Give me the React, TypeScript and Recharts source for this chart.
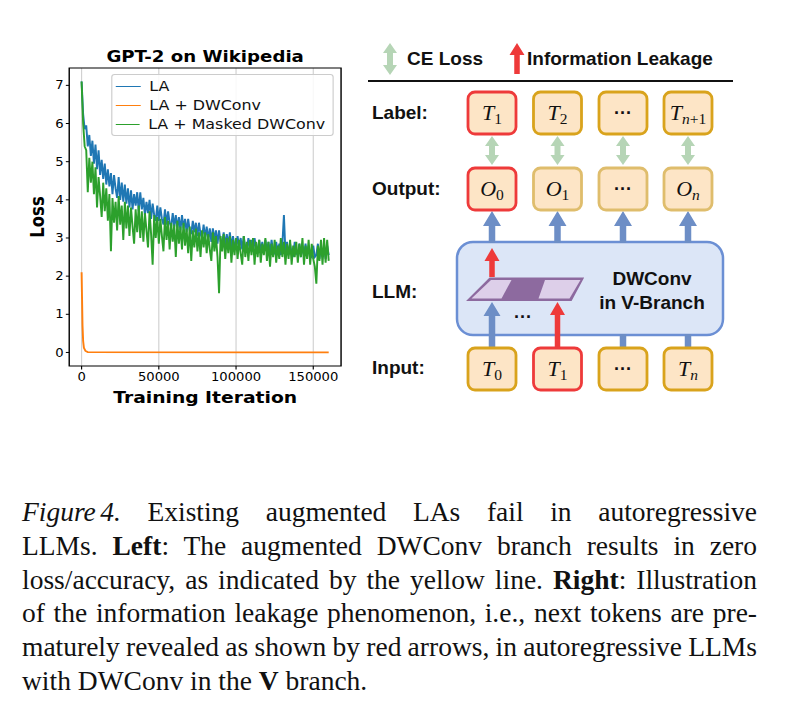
import {
  LineChart,
  Line,
  XAxis,
  YAxis,
  CartesianGrid,
  Legend,
  ReferenceArea,
} from "recharts";

const ITER_STEP = 1000;

const laLoss = [
  7.1, 6.25, 5.85, 5.95, 5.4, 5.7, 5.15, 5.55, 4.95, 5.45,
  4.8, 5.3, 4.65, 5.05, 4.55, 4.95, 4.4, 4.8, 4.35, 4.7,
  4.15, 4.65, 4.3, 4.05, 4.6, 4.0, 4.45, 3.95, 4.4, 3.9,
  4.3, 3.8, 4.25, 3.75, 4.15, 3.85, 4.2, 3.7, 4.2, 3.75,
  4.05, 3.6, 3.95, 3.65, 4.0, 3.5, 3.9, 3.6, 3.45, 3.85,
  3.45, 3.8, 3.5, 3.35, 3.75, 3.35, 3.7, 3.4, 3.3, 3.65,
  3.3, 3.6, 3.25, 3.55, 3.2, 3.6, 3.25, 3.5, 3.15, 3.5,
  3.2, 3.1, 3.45, 3.15, 3.4, 3.05, 3.4, 3.1, 3.0, 3.35,
  3.0, 3.3, 2.95, 3.25, 2.9, 3.25, 2.95, 3.2, 2.85, 3.2,
  2.9, 2.85, 3.15, 2.8, 3.1, 2.8, 3.15, 2.75, 3.05, 2.8,
  2.75, 3.05, 2.75, 3.0, 2.7, 3.05, 2.75, 2.7, 3.0, 2.7,
  2.95, 2.65, 3.0, 2.7, 2.65, 2.95, 2.65, 2.9, 2.6, 2.95,
  2.65, 2.9, 2.6, 2.95, 2.65, 2.6, 2.9, 2.6, 2.85, 2.55,
  2.85, 3.6, 2.6, 2.9, 2.55, 2.85, 2.6, 2.55, 2.9, 2.6,
  2.55, 2.85, 2.5, 2.8, 2.55, 2.85, 2.5, 2.8, 2.55, 2.5,
  2.8, 2.5, 2.55, 2.85, 2.45, 2.8, 2.5, 2.75, 2.45, 2.8,
  2.55,
];

const maskedLoss = [
  7.1, 6.0, 5.4, 5.3, 4.2, 5.1, 4.45, 5.0, 4.15, 4.85,
  3.8, 4.6, 4.1, 3.55, 4.45, 3.7, 4.3, 3.45, 4.15, 2.65,
  4.05, 3.4, 3.95, 3.2, 4.1, 3.35, 3.85, 2.95, 3.95, 3.25,
  3.85, 3.05, 3.8, 3.3, 2.85, 3.75, 3.15, 3.85, 3.0, 3.7,
  2.9, 3.65, 3.2, 2.75, 3.7, 3.1, 2.3, 3.6, 3.0, 3.55,
  2.85, 3.5, 3.05, 2.65, 3.55, 2.95, 3.45, 2.7, 3.4, 2.9,
  3.35, 2.5, 3.45, 2.85, 3.3, 2.7, 3.4, 2.8, 3.25, 2.6,
  3.3, 2.4, 3.2, 2.75, 3.25, 2.65, 3.15, 2.5, 3.2, 2.75,
  3.15, 2.6, 3.1, 2.7, 2.4, 3.15, 2.65, 3.05, 2.5, 1.55,
  3.05, 2.65, 3.1, 2.45, 3.0, 2.6, 3.05, 2.35, 2.95, 2.55,
  3.0, 2.45, 2.95, 2.6, 2.3, 3.05, 2.5, 2.9, 2.4, 2.95,
  2.55, 3.0, 2.3, 2.9, 2.5, 2.95, 2.35, 2.85, 2.55, 3.0,
  2.4, 2.9, 2.25, 2.85, 2.5, 2.95, 2.35, 2.8, 2.45, 3.0,
  2.5, 2.9, 2.3, 2.85, 2.45, 2.95, 2.3, 2.8, 2.5, 2.9,
  2.35, 2.85, 2.5, 3.0, 2.3, 2.8, 2.45, 2.95, 2.3, 2.85,
  2.45, 2.25, 1.8, 2.8, 2.4, 2.95, 2.3, 3.0, 2.35, 2.95,
  2.4,
];

// the DWConv run collapses to zero almost immediately
const dwconvIter = [0, 300, 600, 1000, 1500, 2500, 4000, 160000];
const dwconvLoss = [2.1, 1.4, 0.7, 0.3, 0.12, 0.04, 0.01, 0.0];

const xTicks = [0, 50000, 100000, 150000];
const yTicks = [0, 1, 2, 3, 4, 5, 6, 7];
const seriesNames = ["LA", "LA + DWConv", "LA + Masked DWConv"];
const seriesColors = ["#1f77b4", "#ff7f0e", "#2ca02c"];

const laData = laLoss.map((loss, i) => ({ iter: i * ITER_STEP, loss }));
const maskedData = maskedLoss.map((loss, i) => ({ iter: i * ITER_STEP, loss }));
const dwconvData = dwconvIter.map((iter, i) => ({ iter, loss: dwconvLoss[i] }));

const X_DOMAIN: [number, number] = [-8000, 168000];
const Y_DOMAIN: [number, number] = [-0.355, 7.455];

const MPL_FONT = "'DejaVu Sans', Verdana, sans-serif";
const SANS = "'Liberation Sans', Arial, Helvetica, sans-serif";
const SERIF = "'Liberation Serif', 'Times New Roman', serif";

// the plot in the figure is stretched sideways
const STRETCH = 1.135;

function LegendBox() {
  return (
    <div
      style={{
        border: "1px solid #cccccc",
        borderRadius: 3,
        background: "rgba(255,255,255,0.85)",
        padding: "1.5px 6px 1.5px 3px",
        fontFamily: MPL_FONT,
        fontSize: 14,
        lineHeight: "19px",
        color: "#111",
      }}
    >
      {seriesNames.map((name, i) => (
        <div key={name} style={{ display: "flex", alignItems: "center" }}>
          <span
            style={{
              display: "inline-block",
              width: 22,
              height: 0,
              borderTop: `1.7px solid ${seriesColors[i]}`,
              marginRight: 8,
            }}
          />
          <span style={{ whiteSpace: "nowrap" }}>{name}</span>
        </div>
      ))}
    </div>
  );
}

function LossChart() {
  return (
    <div
      style={{
        position: "absolute",
        left: 0,
        top: 0,
        width: 320,
        height: 420,
        transform: `scaleX(${STRETCH})`,
        transformOrigin: "0 0",
      }}
    >
      <LineChart
        width={320}
        height={420}
        margin={{ top: 68, right: 19.5, bottom: 24, left: 21 }}
      >
        <CartesianGrid horizontal={false} stroke="#d0d0d0" strokeWidth={1} />
        <XAxis
          type="number"
          dataKey="iter"
          domain={X_DOMAIN}
          ticks={xTicks}
          interval={0}
          allowDataOverflow
          axisLine={false}
          tickLine={{ stroke: "#000" }}
          tickSize={3.5}
          tickMargin={3}
          height={30}
          tick={{ fontSize: 11.6, fill: "#000", fontFamily: MPL_FONT }}
        />
        <YAxis
          type="number"
          domain={Y_DOMAIN}
          ticks={yTicks}
          interval={0}
          allowDataOverflow
          axisLine={false}
          tickLine={{ stroke: "#000" }}
          tickSize={3}
          tickMargin={2}
          width={40}
          tick={{ fontSize: 11.6, fill: "#000", fontFamily: MPL_FONT }}
        />
        <Line
          data={laData}
          dataKey="loss"
          name={seriesNames[0]}
          stroke={seriesColors[0]}
          strokeWidth={1.7}
          dot={false}
          type="linear"
          isAnimationActive={false}
        />
        <Line
          data={dwconvData}
          dataKey="loss"
          name={seriesNames[1]}
          stroke={seriesColors[1]}
          strokeWidth={1.7}
          dot={false}
          type="linear"
          isAnimationActive={false}
        />
        <Line
          data={maskedData}
          dataKey="loss"
          name={seriesNames[2]}
          stroke={seriesColors[2]}
          strokeWidth={1.7}
          dot={false}
          type="linear"
          isAnimationActive={false}
        />
        <ReferenceArea
          x1={X_DOMAIN[0]}
          x2={X_DOMAIN[1]}
          y1={Y_DOMAIN[0]}
          y2={Y_DOMAIN[1]}
          fill="none"
          stroke="#000"
          strokeWidth={1.2}
          ifOverflow="visible"
        />
        <Legend
          layout="vertical"
          align="center"
          verticalAlign="middle"
          content={() => <LegendBox />}
          wrapperStyle={{ left: 97.5, top: 74, width: 196, height: "auto" }}
        />
      </LineChart>
      <svg
        width={320}
        height={420}
        style={{ position: "absolute", left: 0, top: 0, pointerEvents: "none" }}
      >
        <text
          x={180.75}
          y={62}
          textAnchor="middle"
          fontFamily={MPL_FONT}
          fontWeight="bold"
          fontSize={16}
        >
          GPT-2 on Wikipedia
        </text>
        <text
          x={180.75}
          y={403}
          textAnchor="middle"
          fontFamily={MPL_FONT}
          fontWeight="bold"
          fontSize={16.5}
        >
          Training Iteration
        </text>
        <text
          transform="translate(33.5,217) rotate(-90)"
          textAnchor="middle"
          dominantBaseline="central"
          fontFamily={MPL_FONT}
          fontWeight="bold"
          fontSize={16.5}
        >
          Loss
        </text>
      </svg>
    </div>
  );
}

// ---------- right-hand illustration ----------

const COLS = [492, 557.5, 623, 688];
const BOX_W = 48;
const BOX_H = 42;
const PEACH = "#fde5c6";
const GOLD = "#d9a31c";
const GOLD_LIGHT = "#dfbd6c";
const RED = "#ee3a3a";
const GREEN = "#b6d5b6";
const BLUE = "#6d8ec6";

type Cell = { base?: string; sub?: { t: string; italic?: boolean }[]; red?: boolean };

const labelRow: Cell[] = [
  { base: "T", sub: [{ t: "1" }], red: true },
  { base: "T", sub: [{ t: "2" }] },
  {},
  { base: "T", sub: [{ t: "n", italic: true }, { t: "+1" }] },
];
const outputRow: Cell[] = [
  { base: "O", sub: [{ t: "0" }], red: true },
  { base: "O", sub: [{ t: "1" }] },
  {},
  { base: "O", sub: [{ t: "n", italic: true }] },
];
const inputRow: Cell[] = [
  { base: "T", sub: [{ t: "0" }] },
  { base: "T", sub: [{ t: "1" }], red: true },
  {},
  { base: "T", sub: [{ t: "n", italic: true }] },
];

function UpArrow(p: {
  x: number;
  tail: number;
  tip: number;
  color: string;
  shaft: number;
  headW: number;
  headH: number;
}) {
  const sw = p.shaft / 2;
  const hw = p.headW / 2;
  const b = p.tip + p.headH;
  const d = `M${p.x - sw},${p.tail} L${p.x - sw},${b} L${p.x - hw},${b} L${p.x},${p.tip} L${p.x + hw},${b} L${p.x + sw},${b} L${p.x + sw},${p.tail} Z`;
  return <path d={d} fill={p.color} />;
}

function DoubleArrow(p: { x: number; top: number; bottom: number; color: string }) {
  const sw = 3;
  const hw = 7;
  const hh = 10;
  const { x, top, bottom } = p;
  const d = `M${x},${top} L${x + hw},${top + hh} L${x + sw},${top + hh} L${x + sw},${bottom - hh} L${x + hw},${bottom - hh} L${x},${bottom} L${x - hw},${bottom - hh} L${x - sw},${bottom - hh} L${x - sw},${top + hh} L${x - hw},${top + hh} Z`;
  return <path d={d} fill={p.color} />;
}

function TokenRow({ cells, top, stroke }: { cells: Cell[]; top: number; stroke: string }) {
  const cy = top + BOX_H / 2;
  return (
    <g>
      {cells.map((c, i) => {
        const cx = COLS[i];
        return (
          <g key={i}>
            <rect
              x={cx - BOX_W / 2}
              y={top}
              width={BOX_W}
              height={BOX_H}
              rx={7}
              fill={PEACH}
              stroke={c.red ? RED : stroke}
              strokeWidth={2.8}
            />
            {c.base ? (
              <text
                x={cx}
                y={cy + 6.5}
                textAnchor="middle"
                fontFamily={SERIF}
                fontSize={22}
                fill="#111"
              >
                <tspan fontStyle="italic">{c.base}</tspan>
                {c.sub!.map((s, j) => (
                  <tspan
                    key={j}
                    fontSize={15.5}
                    dy={j === 0 ? 4 : 0}
                    fontStyle={s.italic ? "italic" : "normal"}
                  >
                    {s.t}
                  </tspan>
                ))}
              </text>
            ) : (
              <text
                x={cx}
                y={cy}
                textAnchor="middle"
                dominantBaseline="central"
                fontFamily={SANS}
                fontWeight="bold"
                fontSize={18}
                fill="#111"
              >
                ···
              </text>
            )}
          </g>
        );
      })}
    </g>
  );
}

function LeakageDiagram() {
  const rowLabel = (text: string, y: number) => (
    <text
      x={372}
      y={y}
      dominantBaseline="central"
      fontFamily={SANS}
      fontWeight="bold"
      fontSize={19}
      fill="#111"
    >
      {text}
    </text>
  );
  return (
    <svg
      width={800}
      height={420}
      style={{ position: "absolute", left: 0, top: 0, pointerEvents: "none" }}
    >
      {/* key */}
      <DoubleArrow x={390} top={43} bottom={75} color={GREEN} />
      <text x={407} y={64.5} fontFamily={SANS} fontWeight="bold" fontSize={19} fill="#111">
        CE Loss
      </text>
      <UpArrow x={517} tail={74} tip={43} color={RED} shaft={5.5} headW={15} headH={12} />
      <text x={527} y={64.5} fontFamily={SANS} fontWeight="bold" fontSize={19} fill="#111">
        Information Leakage
      </text>
      <line x1={368} x2={733} y1={81} y2={81} stroke="#111" strokeWidth={2} />

      {rowLabel("Label:", 112.5)}
      {rowLabel("Output:", 188.5)}
      {rowLabel("LLM:", 291.5)}
      {rowLabel("Input:", 367.5)}

      {/* LLM block */}
      <rect
        x={457}
        y={242}
        width={266}
        height={93}
        rx={16}
        fill="#dce6f7"
        stroke="#6b8fd4"
        strokeWidth={2.5}
      />
      {COLS.map((cx) => (
        <UpArrow key={cx} x={cx} tail={243} tip={211} color={BLUE} shaft={6.5} headW={18} headH={15} />
      ))}
      {COLS.slice(2).map((cx) => (
        <rect key={cx} x={cx - 3.25} y={334} width={6.5} height={15} fill={BLUE} />
      ))}
      <UpArrow x={COLS[0]} tail={347} tip={302} color={BLUE} shaft={6.5} headW={17} headH={14} />
      <UpArrow x={COLS[1]} tail={347} tip={302} color={RED} shaft={5.5} headW={15} headH={13} />
      <UpArrow x={COLS[0]} tail={277} tip={248} color={RED} shaft={5.5} headW={15} headH={13} />

      {/* DWConv kernel */}
      <polygon
        points="468.5,300 490,278.5 582.5,278.5 571,300"
        fill="#8d6a9f"
        stroke="#8d6a9f"
        strokeWidth={2}
      />
      <polygon points="471.5,298.5 491,280 511.5,280 501.5,298.5" fill="#ddcfe9" />
      <polygon points="538.5,298.5 545,280 580.5,280 569.5,298.5" fill="#ddcfe9" />
      <text
        x={523}
        y={317}
        textAnchor="middle"
        dominantBaseline="central"
        fontFamily={SANS}
        fontWeight="bold"
        fontSize={18}
        fill="#111"
      >
        ···
      </text>
      <text x={652} y={278} textAnchor="middle" dominantBaseline="central" fontFamily={SANS} fontWeight="bold" fontSize={19} fill="#111">
        DWConv
      </text>
      <text x={652} y={302} textAnchor="middle" dominantBaseline="central" fontFamily={SANS} fontWeight="bold" fontSize={19} fill="#111">
        in V-Branch
      </text>

      {COLS.map((cx) => (
        <DoubleArrow key={cx} x={cx} top={136} bottom={165} color={GREEN} />
      ))}

      <TokenRow cells={labelRow} top={92} stroke={GOLD} />
      <TokenRow cells={outputRow} top={168} stroke={GOLD_LIGHT} />
      <TokenRow cells={inputRow} top={348} stroke={GOLD} />
    </svg>
  );
}

// ---------- caption ----------

const captionLines: { content: React.ReactNode; justify: boolean }[] = [
  {
    content: (
      <>
        <span style={{ display: "inline-block" }}>
          <i>Figure</i> <i>4.</i>
        </span>{" "}
        Existing augmented LAs fail in autoregressive
      </>
    ),
    justify: true,
  },
  {
    content: (
      <>
        LLMs. <b>Left</b>: The augmented DWConv branch results in zero
      </>
    ),
    justify: true,
  },
  {
    content: (
      <>
        loss/accuracy, as indicated by the yellow line. <b>Right</b>: Illustration
      </>
    ),
    justify: true,
  },
  {
    content: <>of the information leakage phenomenon, i.e., next tokens are pre-</>,
    justify: true,
  },
  {
    content: <>maturely revealed as shown by red arrows, in autoregressive LLMs</>,
    justify: true,
  },
  {
    content: (
      <>
        with DWConv in the <b>V</b> branch.
      </>
    ),
    justify: false,
  },
];

function Caption() {
  return (
    <div style={{ position: "absolute", left: 22, top: 495, width: 735 }}>
      {captionLines.map((line, i) => (
        <div
          key={i}
          style={{
            width: 735,
            height: 33.8,
            lineHeight: "33.8px",
            fontFamily: SERIF,
            fontSize: 27.5,
            color: "#111",
            whiteSpace: "nowrap",
            wordSpacing: line.justify ? -2.5 : 0,
            textAlign: line.justify ? "justify" : "left",
            textAlignLast: line.justify ? "justify" : "left",
          }}
        >
          {line.content}
        </div>
      ))}
    </div>
  );
}

export default function App() {
  return (
    <div
      style={{
        position: "fixed",
        left: 0,
        top: 0,
        width: 800,
        height: 722,
        background: "#fff",
        overflow: "hidden",
      }}
    >
      <LossChart />
      <LeakageDiagram />
      <Caption />
    </div>
  );
}
